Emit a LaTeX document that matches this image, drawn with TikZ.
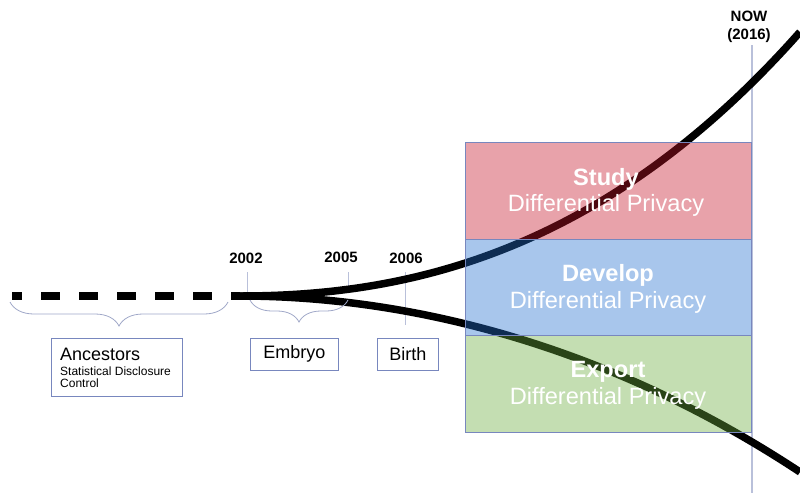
\documentclass[tikz,border=0pt]{standalone}
\usepackage{fontspec}
\setmainfont{Liberation Sans}
\usetikzlibrary{decorations.pathreplacing}

\definecolor{studyred}{RGB}{197,22,42}
\definecolor{developblue}{RGB}{37,112,207}
\definecolor{exportgreen}{RGB}{107,172,62}
\definecolor{boxedge}{RGB}{120,135,190}
\definecolor{guide}{RGB}{185,192,218}
\definecolor{bracecol}{RGB}{160,168,200}

\tikzset{
  path line/.style={line width=7.5pt, black},
  phase box/.style={rectangle, draw=boxedge, line width=0.8pt, fill opacity=0.4,
    text opacity=1, draw opacity=1, minimum width=286pt, minimum height=96.5pt,
    inner sep=0pt, text=white, align=center, font=\fontsize{23.6}{26.5}\selectfont},
  phase text/.style={text=white, align=center, inner sep=0pt,
    font=\fontsize{23.6}{26.5}\selectfont},
  label box/.style={rectangle, draw=boxedge, line width=0.6pt, inner sep=0pt},
  year/.style={font=\fontsize{15}{17}\selectfont\bfseries, anchor=base, inner sep=0pt},
  tick/.style={guide, line width=0.8pt},
  era brace/.style={bracecol, line width=0.8pt, decorate,
    decoration={brace, mirror, amplitude=#1}},
  small text/.style={anchor=base west, inner sep=0pt, font=\fontsize{12}{12.5}\selectfont},
}

\begin{document}
\begin{tikzpicture}[x=1pt, y=-1pt]
\useasboundingbox (0,0) rectangle (800,493);

% "now" marker
\coordinate (nowtop) at (752,45);
\coordinate (nowbot) at (752,493);
\draw[guide, line width=1.2pt] (nowtop) -- (nowbot);
\node[year] (now) at (749,21) {NOW};
\node[year] (nowyear) at (749,39) {(2016)};

% year ticks
\coordinate (t2002a) at (247,272); \coordinate (t2002b) at (247,296);
\coordinate (t2005a) at (348,272); \coordinate (t2005b) at (348,293);
\coordinate (t2006a) at (405,272); \coordinate (t2006b) at (405,325);
\draw[tick] (t2002a) -- (t2002b);
\draw[tick] (t2005a) -- (t2005b);
\draw[tick] (t2006a) -- (t2006b);
\node[year] (y2002) at (246,263) {2002};
\node[year] (y2005) at (341,262) {2005};
\node[year] (y2006) at (406,263) {2006};

% timeline
\coordinate (start) at (12,296);
\coordinate (join) at (232,296);
\coordinate (split) at (240,296);
\coordinate (upend) at (800,32);
\coordinate (downend) at (800,472);
\draw[path line, dash pattern=on 19pt off 19pt, dash phase=9pt] (start) -- (join);
\draw[path line] (join) -- (split);
\draw[path line] (split) .. controls (400,296) and (600,258) .. (upend);
\draw[path line] (split) .. controls (400,296) and (600,340) .. (downend);

% braces
\coordinate (ba) at (10,302); \coordinate (bb) at (228,302);
\coordinate (ea) at (250,300); \coordinate (eb) at (348,300);
\draw[era brace=24pt] (ba) -- (bb);
\draw[era brace=22pt] (ea) -- (eb);

% era labels
\node[label box, minimum width=131pt, minimum height=58pt, anchor=north west]
  (ancbox) at (51,338) {};
\node[anchor=base west, inner sep=0pt, font=\fontsize{18}{20}\selectfont]
  (anc) at (60,360) {Ancestors};
\node[small text] (sdc) at (60,375) {Statistical Disclosure};
\node[small text] (ctrl) at (60,387) {Control};
\node[label box, minimum width=88pt, minimum height=32pt, anchor=north west,
  font=\fontsize{18}{20}\selectfont] (embryo) at (250,338) {Embryo};
\node[label box, minimum width=61pt, minimum height=32pt, anchor=north west,
  font=\fontsize{18}{20}\selectfont] (birth) at (377,338) {Birth};

% phase boxes (tinted, the curves show through)
\node[phase box, fill=studyred] (study) at (608,191) {};
\node[phase box, fill=developblue] (develop) at (608,287.5) {};
\node[phase box, fill=exportgreen] (export) at (608,384) {};
\node[phase text] (studyt) at (606,192.5) {\textbf{Study}\\Differential Privacy};
\node[phase text] (developt) at (608,289) {\textbf{Develop}\\Differential Privacy};
\node[phase text] (exportt) at (608,385.5) {\textbf{Export}\\Differential Privacy};
\end{tikzpicture}
\end{document}
